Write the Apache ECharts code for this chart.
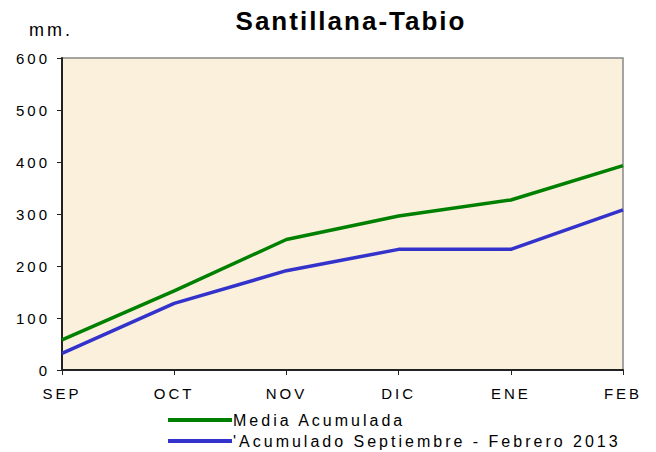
<!DOCTYPE html>
<html>
<head>
<meta charset="utf-8">
<script src="https://cdn.jsdelivr.net/npm/echarts@6/dist/echarts.min.js"></script>
<style>
  html, body { margin: 0; padding: 0; background: #fff; }
  #chart { width: 656px; height: 452px; }
  /* el original tiene las letras muy espaciadas */
  #chart text { letter-spacing: 3px; }
  #chart text[style*="bold"] { letter-spacing: 2px; }
</style>
</head>
<body>
<div id="chart"></div>
<script>
// meses y valores
const months = ['SEP', 'OCT', 'NOV', 'DIC', 'ENE', 'FEB'];
const mediaAcumulada = [58, 152, 251, 296, 327, 393];
const acumulado2013 = [32, 128, 191, 232, 232, 308];
const yTicks = [0, 100, 200, 300, 400, 500, 600];
const seriesNames = ['Media Acumulada', "'Acumulado Septiembre - Febrero 2013"];

const font = 'Liberation Sans, Arial, sans-serif';

let myChart = echarts.init(document.getElementById('chart'), null, { renderer: 'svg' });

function legendAt(name, top) {
  return {
    left: 163, top: top,
    itemWidth: 64, itemHeight: 4,
    icon: 'rect',
    selectedMode: false,
    textStyle: { fontSize: 16, color: '#000', fontFamily: font, padding: [0, 0, 0, -4] },
    data: [name]
  };
}

myChart.setOption({
  animation: false,
  textStyle: { fontFamily: font },
  title: [
    {
      text: 'Santillana-Tabio',
      left: 346, top: 3, textAlign: 'center',
      textStyle: { fontSize: 26, fontWeight: 'bold', color: '#000', fontFamily: font }
    },
    {
      text: 'mm.',
      left: 24, top: 16,
      textStyle: { fontSize: 18, fontWeight: 'normal', color: '#000', fontFamily: font }
    }
  ],
  grid: {
    left: 62, right: 33, top: 58, bottom: 82,
    show: true,
    backgroundColor: '#fbf0dc',
    borderColor: '#888',
    borderWidth: 1.5
  },
  legend: [legendAt(seriesNames[0], 407), legendAt(seriesNames[1], 428)],
  xAxis: {
    type: 'category',
    data: months,
    boundaryGap: false,
    axisLine: { lineStyle: { color: '#222', width: 2 } },
    axisTick: { length: 5, lineStyle: { color: '#222' } },
    axisLabel: { color: '#000', fontSize: 15, margin: 16 },
    splitLine: { show: false }
  },
  yAxis: {
    type: 'value',
    min: yTicks[0], max: yTicks[yTicks.length - 1], interval: 100,
    axisLine: { show: true, lineStyle: { color: '#222', width: 2 } },
    axisTick: { show: true, length: 5, lineStyle: { color: '#222' } },
    axisLabel: { color: '#000', fontSize: 15, margin: 12 },
    splitLine: { show: false }
  },
  series: [
    {
      name: seriesNames[0],
      type: 'line',
      data: mediaAcumulada,
      symbol: 'none',
      color: '#008000',
      lineStyle: { width: 3.5, color: '#008000' }
    },
    {
      name: seriesNames[1],
      type: 'line',
      data: acumulado2013,
      symbol: 'none',
      color: '#3333cc',
      lineStyle: { width: 3.5, color: '#3333cc' }
    }
  ]
});
</script>
</body>
</html>
